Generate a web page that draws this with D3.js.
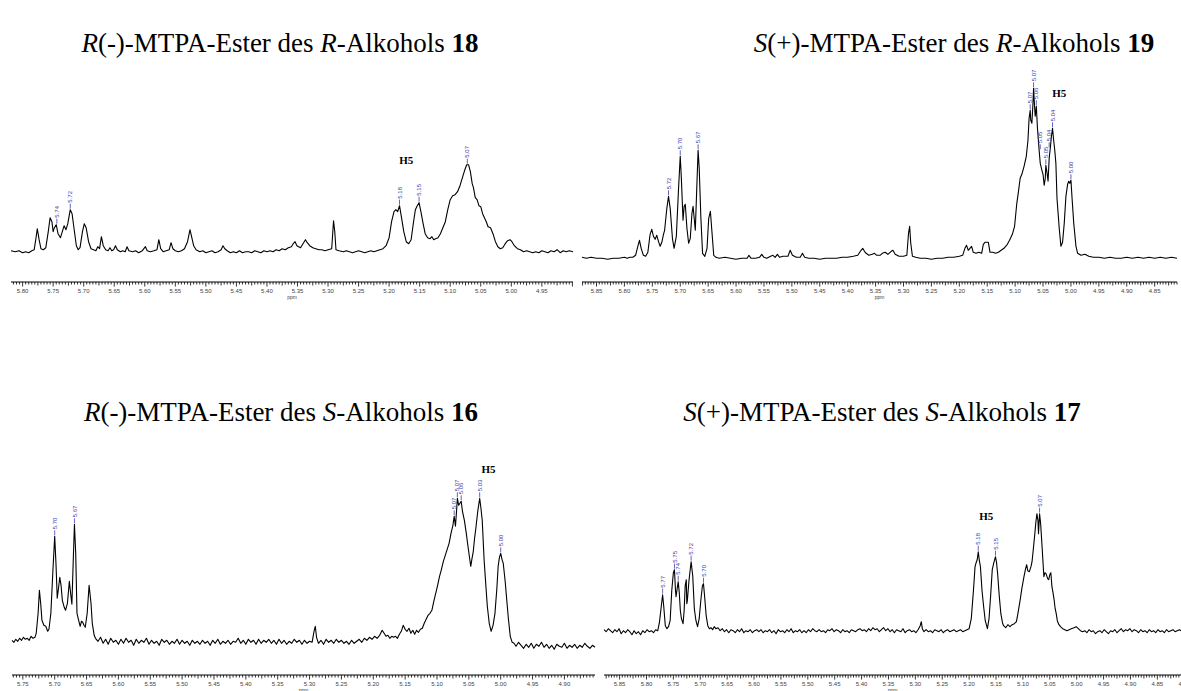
<!DOCTYPE html>
<html>
<head>
<meta charset="utf-8">
<script src="https://cdn.jsdelivr.net/npm/d3@7.9.0/dist/d3.min.js"></script>
<style>
  body { margin: 0; background: #fff; }
  svg { display: block; }
</style>
</head>
<body>
<svg id="chart" width="1181" height="691"></svg>
<script>
// ---- data: [ppm, intensity above baseline] ----
const trace18 = [
  [5.819,1],[5.812,0],[5.806,1],[5.800,-1],[5.795,0],[5.790,-1],[5.785,1],[5.781,2],[5.778,14],[5.776,23],
  [5.773,12],[5.770,3],[5.766,2],[5.762,4],[5.758,20],[5.755,34],[5.752,30],[5.750,20],[5.748,24],[5.745,27],
  [5.742,18],[5.738,14],[5.735,20],[5.732,26],[5.729,22],[5.726,28],[5.722,42],[5.719,38],[5.716,24],[5.712,6],
  [5.709,2],[5.706,4],[5.702,20],[5.699,28],[5.696,24],[5.692,10],[5.688,3],[5.684,2],[5.680,1],[5.677,5],
  [5.674,3],[5.671,15],[5.668,6],[5.664,2],[5.660,1],[5.657,4],[5.654,1],[5.651,2],[5.648,6],[5.645,2],
  [5.640,0],[5.636,1],[5.632,0],[5.629,5],[5.626,1],[5.620,0],[5.615,1],[5.610,-1],[5.604,1],[5.599,5],
  [5.596,1],[5.591,0],[5.585,1],[5.580,2],[5.577,12],[5.574,3],[5.570,0],[5.565,1],[5.560,2],[5.557,9],
  [5.554,3],[5.550,1],[5.545,0],[5.540,1],[5.535,3],[5.530,10],[5.526,22],[5.523,14],[5.520,6],[5.516,2],
  [5.510,0],[5.505,1],[5.500,-1],[5.495,0],[5.490,1],[5.485,-1],[5.480,0],[5.475,2],[5.472,6],[5.469,3],
  [5.465,1],[5.460,-1],[5.455,0],[5.450,-1],[5.445,1],[5.440,-1],[5.435,0],[5.430,0],[5.425,-1],[5.420,1],
  [5.415,0],[5.410,-1],[5.405,1],[5.400,0],[5.395,1],[5.390,0],[5.385,2],[5.380,1],[5.375,3],[5.370,2],
  [5.365,4],[5.360,5],[5.357,8],[5.354,10],[5.351,6],[5.348,5],[5.345,4],[5.341,8],[5.337,12],[5.334,9],
  [5.330,6],[5.325,4],[5.320,3],[5.315,2],[5.310,2],[5.305,1],[5.300,2],[5.294,3],[5.291,31],[5.289,20],
  [5.287,2],[5.282,1],[5.275,0],[5.270,1],[5.265,0],[5.260,-1],[5.255,0],[5.250,1],[5.245,0],[5.240,-1],
  [5.235,0],[5.230,1],[5.225,0],[5.220,1],[5.215,2],[5.210,3],[5.205,6],[5.200,14],[5.196,30],[5.192,40],
  [5.189,42],[5.186,40],[5.183,46],[5.180,35],[5.176,20],[5.172,10],[5.168,8],[5.164,12],[5.160,30],[5.157,42],
  [5.154,46],[5.151,49],[5.148,40],[5.145,30],[5.141,18],[5.137,14],[5.133,13],[5.130,15],[5.127,12],[5.124,13],
  [5.120,14],[5.116,18],[5.112,24],[5.108,30],[5.104,42],[5.100,52],[5.096,56],[5.092,57],[5.088,60],[5.084,66],
  [5.080,74],[5.076,82],[5.073,87],[5.070,87],[5.067,80],[5.064,68],[5.062,64],[5.059,54],[5.056,52],[5.053,46],
  [5.050,45],[5.047,38],[5.044,34],[5.041,30],[5.038,25],[5.034,24],[5.030,18],[5.026,10],[5.022,5],[5.018,3],
  [5.014,4],[5.010,8],[5.006,11],[5.002,12],[4.999,10],[4.995,6],[4.990,3],[4.985,2],[4.980,0],[4.975,1],
  [4.970,0],[4.965,-1],[4.960,0],[4.955,-1],[4.950,1],[4.945,0],[4.940,-1],[4.935,1],[4.930,0],[4.925,2],
  [4.920,-1],[4.915,1],[4.910,0],[4.905,1],[4.899,0]
];
const trace19 = [
  [5.876,1],[5.868,0],[5.860,1],[5.850,0],[5.840,0],[5.830,-1],[5.820,0],[5.810,0],[5.800,1],[5.795,0],
  [5.790,1],[5.785,1],[5.780,3],[5.776,12],[5.773,18],[5.770,10],[5.766,3],[5.762,2],[5.758,6],[5.754,24],
  [5.751,29],[5.748,22],[5.745,19],[5.742,23],[5.739,17],[5.736,12],[5.733,16],[5.730,24],[5.728,28],[5.724,50],
  [5.721,62],[5.718,50],[5.714,20],[5.711,10],[5.707,22],[5.703,70],[5.700,102],[5.698,80],[5.695,38],[5.693,52],
  [5.691,54],[5.688,30],[5.685,15],[5.682,20],[5.679,45],[5.677,52],[5.675,40],[5.673,28],[5.671,60],[5.668,108],
  [5.666,90],[5.663,40],[5.660,5],[5.656,2],[5.652,10],[5.649,40],[5.646,47],[5.643,25],[5.640,3],[5.636,1],
  [5.630,0],[5.620,1],[5.610,0],[5.600,-1],[5.590,0],[5.580,0],[5.577,3],[5.573,0],[5.565,0],[5.558,1],
  [5.554,4],[5.550,1],[5.545,0],[5.538,2],[5.534,3],[5.530,1],[5.526,4],[5.522,1],[5.516,2],[5.507,2],
  [5.503,8],[5.499,3],[5.492,1],[5.485,1],[5.481,5],[5.477,1],[5.470,0],[5.460,0],[5.450,-1],[5.440,0],
  [5.430,0],[5.420,0],[5.410,1],[5.400,1],[5.390,2],[5.382,3],[5.376,8],[5.373,10],[5.370,7],[5.367,5],
  [5.362,3],[5.356,4],[5.352,5],[5.348,3],[5.342,3],[5.338,5],[5.333,6],[5.328,4],[5.322,7],[5.319,8],
  [5.315,4],[5.308,2],[5.300,2],[5.294,3],[5.291,25],[5.289,32],[5.287,15],[5.284,2],[5.278,1],[5.270,0],
  [5.260,0],[5.250,-1],[5.240,0],[5.230,0],[5.220,1],[5.210,1],[5.200,2],[5.194,3],[5.190,10],[5.187,13],
  [5.184,8],[5.181,10],[5.178,12],[5.175,6],[5.170,5],[5.165,6],[5.160,5],[5.157,14],[5.154,16],[5.151,16],
  [5.148,16],[5.145,6],[5.140,6],[5.135,5],[5.130,6],[5.125,8],[5.120,10],[5.114,14],[5.110,18],[5.105,24],
  [5.101,32],[5.097,55],[5.094,67],[5.091,80],[5.088,84],[5.084,92],[5.080,102],[5.077,118],[5.075,140],[5.073,148],
  [5.072,138],[5.070,135],[5.068,155],[5.067,170],[5.065,150],[5.064,142],[5.062,152],[5.060,130],[5.057,108],[5.055,95],
  [5.052,88],[5.050,84],[5.048,73],[5.046,80],[5.045,93],[5.043,86],[5.041,77],[5.039,100],[5.037,110],[5.035,122],
  [5.033,130],[5.031,118],[5.029,108],[5.027,95],[5.025,60],[5.021,30],[5.018,12],[5.015,16],[5.012,35],[5.009,62],
  [5.006,74],[5.004,77],[5.002,75],[5.000,78],[4.998,60],[4.995,35],[4.991,12],[4.988,5],[4.982,3],[4.975,4],
  [4.968,2],[4.960,1],[4.950,1],[4.940,0],[4.930,1],[4.920,0],[4.910,0],[4.900,1],[4.890,0],[4.880,1],
  [4.870,0],[4.860,1],[4.850,0],[4.840,1],[4.830,0],[4.820,1],[4.810,0]
];
const trace16 = [
  [5.767,3],[5.764,1],[5.761,4],[5.758,2],[5.755,5],[5.752,3],[5.749,6],[5.746,4],[5.743,5],[5.740,3],
  [5.737,7],[5.734,5],[5.731,6],[5.729,10],[5.726,30],[5.724,53],[5.722,40],[5.720,23],[5.717,18],[5.714,17],
  [5.711,12],[5.709,14],[5.706,30],[5.703,70],[5.700,107],[5.698,80],[5.696,45],[5.694,55],[5.692,66],[5.690,58],
  [5.688,43],[5.685,36],[5.683,33],[5.680,40],[5.677,62],[5.675,50],[5.673,39],[5.671,80],[5.669,119],[5.667,90],
  [5.665,30],[5.662,22],[5.660,17],[5.658,22],[5.656,21],[5.654,18],[5.652,16],[5.649,30],[5.646,58],[5.643,40],
  [5.641,20],[5.638,8],[5.636,5],[5.632,2],[5.628,6],[5.624,0],[5.620,4],[5.616,-1],[5.612,5],[5.608,1],
  [5.604,3],[5.600,-1],[5.596,4],[5.592,0],[5.588,5],[5.584,1],[5.580,3],[5.576,-2],[5.572,4],[5.568,0],
  [5.564,3],[5.560,1],[5.556,5],[5.552,-1],[5.548,3],[5.544,0],[5.540,2],[5.536,-2],[5.532,4],[5.528,1],
  [5.524,3],[5.520,-1],[5.516,2],[5.512,0],[5.508,4],[5.504,-1],[5.500,3],[5.496,0],[5.492,2],[5.488,-2],
  [5.484,3],[5.480,0],[5.476,2],[5.472,-1],[5.468,3],[5.464,0],[5.460,2],[5.456,-2],[5.452,3],[5.448,0],
  [5.444,4],[5.440,-1],[5.436,2],[5.432,0],[5.428,3],[5.424,-1],[5.420,2],[5.416,1],[5.412,5],[5.408,0],
  [5.404,3],[5.400,-1],[5.396,4],[5.392,1],[5.388,3],[5.384,-1],[5.380,4],[5.376,0],[5.372,3],[5.368,1],
  [5.364,4],[5.360,0],[5.356,3],[5.352,-1],[5.348,4],[5.344,0],[5.340,3],[5.336,-1],[5.332,2],[5.328,0],
  [5.324,4],[5.320,1],[5.316,3],[5.312,-1],[5.308,3],[5.304,0],[5.300,2],[5.296,1],[5.293,12],[5.291,17],
  [5.289,6],[5.286,0],[5.282,3],[5.278,-1],[5.274,4],[5.270,1],[5.266,3],[5.262,0],[5.258,4],[5.254,1],
  [5.250,3],[5.246,0],[5.242,2],[5.238,-1],[5.234,3],[5.230,0],[5.226,2],[5.222,4],[5.218,1],[5.214,5],
  [5.210,3],[5.206,6],[5.202,4],[5.198,7],[5.194,5],[5.190,8],[5.186,13],[5.183,10],[5.180,7],[5.177,8],
  [5.174,5],[5.171,7],[5.168,6],[5.165,7],[5.162,5],[5.159,9],[5.156,12],[5.153,18],[5.150,14],[5.147,12],
  [5.144,15],[5.141,10],[5.138,13],[5.135,9],[5.132,13],[5.129,11],[5.126,14],[5.123,15],[5.120,20],[5.117,24],
  [5.114,28],[5.111,30],[5.108,33],[5.105,42],[5.102,50],[5.099,58],[5.096,67],[5.093,74],[5.090,82],[5.087,88],
  [5.084,94],[5.081,100],[5.078,110],[5.075,118],[5.073,127],[5.071,117],[5.069,135],[5.068,145],[5.066,138],[5.064,140],
  [5.062,142],[5.060,132],[5.057,123],[5.054,110],[5.052,100],[5.049,86],[5.047,77],[5.045,85],[5.043,92],[5.041,105],
  [5.039,115],[5.036,132],[5.033,145],[5.031,135],[5.029,123],[5.026,83],[5.023,55],[5.021,37],[5.018,20],[5.015,12],
  [5.012,18],[5.009,30],[5.006,55],[5.004,77],[5.002,86],[5.000,90],[4.998,84],[4.996,80],[4.993,62],[4.991,47],
  [4.988,25],[4.985,7],[4.982,1],[4.979,0],[4.976,-3],[4.972,1],[4.968,-2],[4.964,-5],[4.960,-1],[4.956,-4],
  [4.952,0],[4.948,-5],[4.944,-1],[4.940,-3],[4.936,1],[4.932,-4],[4.928,-1],[4.924,-5],[4.920,-2],[4.916,-6],
  [4.912,-1],[4.908,-3],[4.904,-4],[4.900,0],[4.896,-5],[4.892,-2],[4.888,-4],[4.884,-1],[4.880,-5],[4.876,-2],
  [4.872,-4],[4.868,0],[4.864,-3],[4.860,-5],[4.856,-2],[4.852,-4]
];
const trace17 = [
  [5.879,1],[5.875,-1],[5.871,2],[5.867,0],[5.863,-2],[5.859,1],[5.855,-1],[5.851,2],[5.847,-3],[5.843,0],
  [5.839,-2],[5.835,1],[5.831,-1],[5.827,-4],[5.823,0],[5.819,-3],[5.815,-1],[5.811,-4],[5.807,0],[5.803,-2],
  [5.799,1],[5.795,-1],[5.791,0],[5.787,-2],[5.783,1],[5.779,0],[5.776,8],[5.773,22],[5.770,36],[5.768,25],
  [5.765,5],[5.762,2],[5.759,4],[5.756,10],[5.753,40],[5.750,58],[5.748,61],[5.746,40],[5.745,34],[5.743,42],
  [5.741,49],[5.739,38],[5.737,20],[5.735,12],[5.732,7],[5.730,20],[5.728,45],[5.726,51],[5.725,27],[5.724,30],
  [5.721,50],[5.717,69],[5.714,55],[5.711,22],[5.708,10],[5.705,4],[5.702,12],[5.699,30],[5.696,45],[5.694,47],
  [5.692,35],[5.689,15],[5.686,5],[5.683,2],[5.680,3],[5.677,1],[5.674,4],[5.671,2],[5.667,3],[5.663,0],
  [5.659,2],[5.655,-1],[5.651,1],[5.647,-2],[5.643,1],[5.639,0],[5.635,-2],[5.631,1],[5.627,-1],[5.623,2],
  [5.619,-2],[5.615,0],[5.611,-1],[5.607,1],[5.603,-2],[5.599,0],[5.595,1],[5.591,-1],[5.587,1],[5.583,-2],
  [5.579,0],[5.575,-1],[5.571,1],[5.567,-2],[5.563,0],[5.559,-3],[5.555,1],[5.551,-1],[5.547,0],[5.543,-2],
  [5.539,1],[5.535,-1],[5.531,2],[5.527,-2],[5.523,0],[5.519,-1],[5.515,1],[5.511,-2],[5.507,0],[5.503,-2],
  [5.499,1],[5.495,-1],[5.491,2],[5.487,0],[5.483,-1],[5.479,1],[5.475,-1],[5.471,0],[5.467,-2],[5.463,1],
  [5.459,0],[5.455,2],[5.451,-1],[5.447,1],[5.443,0],[5.439,-2],[5.435,1],[5.431,-1],[5.427,0],[5.423,-2],
  [5.419,1],[5.415,0],[5.411,-1],[5.407,1],[5.403,2],[5.399,0],[5.395,1],[5.391,-1],[5.387,2],[5.383,0],
  [5.379,3],[5.375,1],[5.371,2],[5.367,-1],[5.363,1],[5.359,3],[5.355,0],[5.351,2],[5.347,-1],[5.343,1],
  [5.339,-2],[5.335,1],[5.331,0],[5.327,-1],[5.323,2],[5.319,-2],[5.315,0],[5.311,1],[5.307,-1],[5.303,0],
  [5.299,-2],[5.295,1],[5.291,5],[5.289,9],[5.287,2],[5.284,-1],[5.280,1],[5.276,-1],[5.272,0],[5.268,-2],
  [5.264,1],[5.260,0],[5.256,-1],[5.252,1],[5.248,-2],[5.244,0],[5.240,1],[5.236,-1],[5.232,0],[5.228,1],
  [5.224,-1],[5.220,0],[5.216,1],[5.212,-1],[5.208,0],[5.204,1],[5.200,2],[5.196,12],[5.192,40],[5.189,64],
  [5.187,68],[5.185,71],[5.183,79],[5.181,70],[5.179,64],[5.176,40],[5.173,24],[5.170,10],[5.166,2],[5.163,12],
  [5.160,35],[5.157,61],[5.154,68],[5.151,74],[5.149,68],[5.147,57],[5.144,35],[5.141,17],[5.138,8],[5.136,5],
  [5.132,3],[5.128,6],[5.124,4],[5.120,6],[5.116,7],[5.112,9],[5.109,18],[5.105,31],[5.102,42],[5.098,54],
  [5.095,62],[5.093,66],[5.091,60],[5.088,59],[5.085,64],[5.083,69],[5.080,85],[5.078,96],[5.076,108],[5.074,117],
  [5.072,110],[5.071,97],[5.069,117],[5.067,107],[5.064,81],[5.061,54],[5.059,58],[5.057,57],[5.054,52],[5.052,51],
  [5.050,56],[5.048,58],[5.046,44],[5.044,38],[5.042,31],[5.040,22],[5.038,17],[5.036,10],[5.033,6],[5.030,4],
  [5.026,2],[5.022,1],[5.018,0],[5.014,1],[5.010,2],[5.005,3],[5.001,4],[4.997,2],[4.993,0],[4.989,-1],
  [4.985,0],[4.981,-2],[4.977,1],[4.973,-1],[4.969,0],[4.965,-3],[4.961,-1],[4.957,0],[4.953,-2],[4.949,1],
  [4.945,-1],[4.941,-3],[4.937,0],[4.933,-1],[4.929,1],[4.925,-2],[4.921,0],[4.917,2],[4.913,-1],[4.909,1],
  [4.905,0],[4.901,2],[4.897,-1],[4.893,1],[4.889,0],[4.885,-2],[4.881,1],[4.877,-1],[4.873,0],[4.869,-2],
  [4.865,1],[4.861,-1],[4.857,0],[4.853,-2],[4.849,1],[4.845,-1],[4.841,0],[4.837,-2],[4.833,1],[4.829,-1],
  [4.825,0],[4.821,1],[4.817,-1],[4.813,0],[4.809,1],[4.806,0]
];

// peak picks [ppm, printed label]
const peaks18 = [[5.744,'5.74'],[5.722,'5.72'],[5.183,'5.18'],[5.151,'5.15'],[5.072,'5.07']];
const peaks19 = [[5.721,'5.72'],[5.700,'5.70'],[5.668,'5.67'],[5.073,'5.07'],[5.067,'5.07'],[5.062,'5.06'],
                 [5.055,'5.05'],[5.045,'5.05'],[5.039,'5.04'],[5.033,'5.04'],[5.000,'5.00']];
const peaks16 = [[5.700,'5.70'],[5.669,'5.67'],[5.073,'5.07'],[5.068,'5.07'],[5.062,'5.06'],[5.033,'5.03'],[5.000,'5.00']];
const peaks17 = [[5.770,'5.77'],[5.748,'5.75'],[5.741,'5.74'],[5.717,'5.72'],[5.694,'5.70'],[5.183,'5.18'],[5.151,'5.15'],[5.069,'5.07']];

// "H5" annotation [ppm, height above baseline]
const h5_18 = [5.172, 92];
const h5_19 = [5.021, 165];
const h5_16 = [5.019, 174];
const h5_17 = [5.168, 115];

// ppm window of each axis, and its labelled ticks
const range18 = [5.819, 4.899];
const range19 = [5.876, 4.810];
const range16 = [5.767, 4.852];
const range17 = [5.879, 4.806];
const ticks18 = ['5.80','5.75','5.70','5.65','5.60','5.55','5.50','5.45','5.40','5.35','5.30','5.25','5.20','5.15','5.10','5.05','5.00','4.95'];
const ticks19 = ['5.85','5.80','5.75','5.70','5.65','5.60','5.55','5.50','5.45','5.40','5.35','5.30','5.25','5.20','5.15','5.10','5.05','5.00','4.95','4.90','4.85'];
const ticks16 = ['5.75','5.70','5.65','5.60','5.55','5.50','5.45','5.40','5.35','5.30','5.25','5.20','5.15','5.10','5.05','5.00','4.95','4.90'];
const ticks17 = ['5.85','5.80','5.75','5.70','5.65','5.60','5.55','5.50','5.45','5.40','5.35','5.30','5.25','5.20','5.15','5.10','5.05','5.00','4.95','4.90','4.85','4.80'];

// titles as [text, style] runs
const title18 = [['R','i'],['(-)-MTPA-Ester des ',''],['R','i'],['-Alkohols ',''],['18','b']];
const title19 = [['S','i'],['(+)-MTPA-Ester des ',''],['R','i'],['-Alkohols ',''],['19','b']];
const title16 = [['R','i'],['(-)-MTPA-Ester des ',''],['S','i'],['-Alkohols ',''],['16','b']];
const title17 = [['S','i'],['(+)-MTPA-Ester des ',''],['S','i'],['-Alkohols ',''],['17','b']];

const svg = d3.select('#chart');
const blue = '#3b3bb0';

const panels = [
  {trace: trace18, peaks: peaks18, h5: h5_18, range: range18, ticks: ticks18, title: title18, x0: 11,  x1: 573,  base: 251.7, axisY: 282, tx: 280, ty: 52},
  {trace: trace19, peaks: peaks19, h5: h5_19, range: range19, ticks: ticks19, title: title19, x0: 582, x1: 1177, base: 258.3, axisY: 282, tx: 954, ty: 52},
  {trace: trace16, peaks: peaks16, h5: h5_16, range: range16, ticks: ticks16, title: title16, x0: 12,  x1: 595,  base: 643.3, axisY: 675, tx: 281, ty: 421},
  {trace: trace17, peaks: peaks17, h5: h5_17, range: range17, ticks: ticks17, title: title17, x0: 604, x1: 1181, base: 630.7, axisY: 675, tx: 882, ty: 421}
];

panels.forEach(p => {
  const g = svg.append('g');
  const x = d3.scaleLinear().domain(p.range).range([p.x0, p.x1]);
  const y = d3.scaleLinear().domain([0, 100]).range([p.base, p.base - 100]);

  // title
  const t = g.append('text')
    .attr('x', p.tx).attr('y', p.ty)
    .attr('text-anchor', 'middle')
    .style('font-family', '"Liberation Serif", "Times New Roman", serif')
    .style('font-size', '27px')
    .attr('fill', '#000');
  p.title.forEach(([s, f]) => {
    t.append('tspan').text(s)
      .style('font-style', f === 'i' ? 'italic' : 'normal')
      .style('font-weight', f === 'b' ? 'bold' : 'normal');
  });

  // axis: dense minor ticks, labels every 0.05
  const axisG = g.append('g').attr('transform', `translate(0,${p.axisY})`);
  axisG.append('line')
    .attr('x1', p.x0).attr('x2', p.x1)
    .attr('stroke', '#000').attr('stroke-width', 1);
  const lo = Math.min(...p.range), hi = Math.max(...p.range);
  const minor = d3.range(Math.ceil(lo / 0.005), Math.floor(hi / 0.005) + 1).map(k => k * 0.005);
  axisG.selectAll('line.tk').data(minor).join('line')
    .attr('class', 'tk')
    .attr('x1', d => x(d)).attr('x2', d => x(d))
    .attr('y1', 0)
    .attr('y2', d => {
      const k = Math.round(d / 0.005);
      return k % 10 === 0 ? 4.5 : (k % 5 === 0 ? 3.5 : 2.5);
    })
    .attr('stroke', '#000').attr('stroke-width', 0.8);
  axisG.selectAll('text.tl').data(p.ticks).join('text')
    .attr('class', 'tl')
    .attr('x', d => x(+d)).attr('y', 10.5)
    .attr('text-anchor', 'middle')
    .style('font-family', '"Liberation Sans", Arial, sans-serif')
    .style('font-size', '6px')
    .attr('fill', '#444')
    .text(d => d);
  axisG.append('text')
    .attr('x', (p.x0 + p.x1) / 2).attr('y', 16.5)
    .attr('text-anchor', 'middle')
    .style('font-family', '"Liberation Sans", Arial, sans-serif')
    .style('font-size', '5px')
    .attr('fill', '#444')
    .text('ppm');

  // spectrum
  const line = d3.line().x(d => x(d[0])).y(d => y(d[1]));
  g.append('path')
    .datum(p.trace)
    .attr('d', line)
    .attr('fill', 'none')
    .attr('stroke', '#000')
    .attr('stroke-width', 1.1)
    .attr('stroke-linejoin', 'round');

  // peak picks
  const topAt = ppm => d3.max(p.trace.filter(d => Math.abs(d[0] - ppm) <= 0.0025), d => d[1]);
  p.peaks.forEach(([ppm, lab]) => {
    const px = x(ppm), py = y(topAt(ppm));
    g.append('line')
      .attr('x1', px).attr('x2', px)
      .attr('y1', py - 1).attr('y2', py - 6)
      .attr('stroke', blue).attr('stroke-width', 0.8);
    g.append('text')
      .attr('transform', `translate(${px},${py - 7}) rotate(-90)`)
      .attr('dy', '0.35em')
      .style('font-family', '"Liberation Sans", Arial, sans-serif')
      .style('font-size', '6px')
      .attr('fill', blue)
      .text(lab);
  });

  // H5 annotation
  g.append('text')
    .attr('x', x(p.h5[0])).attr('y', y(p.h5[1]))
    .attr('dy', '0.35em')
    .attr('text-anchor', 'middle')
    .style('font-family', '"Liberation Serif", "Times New Roman", serif')
    .style('font-size', '11px')
    .style('font-weight', 'bold')
    .text('H5');
});
</script>
</body>
</html>
